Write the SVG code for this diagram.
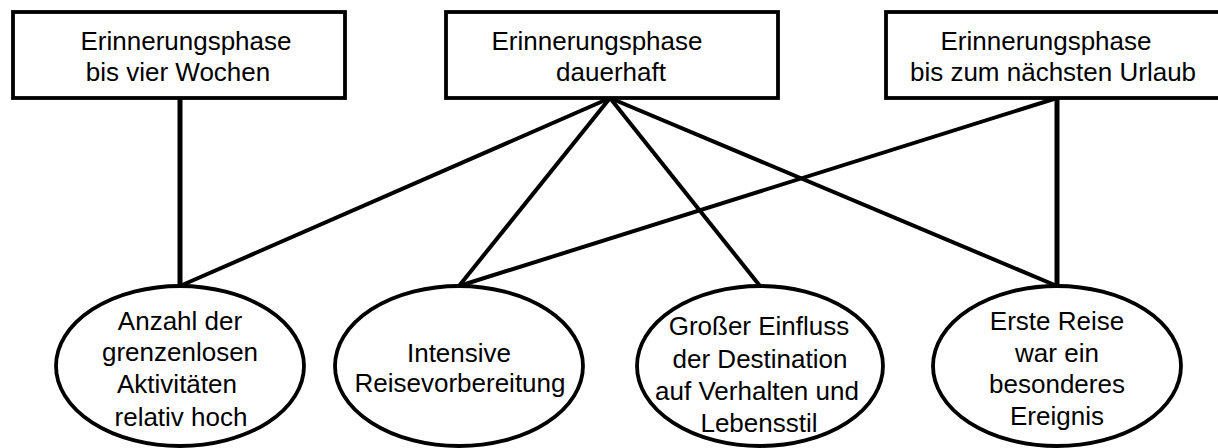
<svg xmlns="http://www.w3.org/2000/svg" width="1218" height="448" viewBox="0 0 1218 448">
  <style>
    .box { fill: #fff; stroke: #000; stroke-width: 3.8; }
    .oval { fill: #fff; stroke: #000; stroke-width: 3.8; }
    .link { stroke: #000; stroke-width: 4; fill: none; }
    .link.straight { stroke-width: 5; }
    text { font-family: "Liberation Sans", Arial, sans-serif; font-size: 26px; fill: #000; text-anchor: middle; }
  </style>
  <rect width="1218" height="448" fill="#fff"/>

  <!-- connectors between phases and factors -->
  <g id="connectors">
    <line class="link straight" x1="180" y1="98" x2="180" y2="286"/>
    <line class="link" x1="610" y1="98" x2="180" y2="286"/>
    <line class="link" x1="610" y1="98" x2="459" y2="286"/>
    <line class="link" x1="610" y1="98" x2="760" y2="286"/>
    <line class="link" x1="610" y1="98" x2="1057" y2="286"/>
    <line class="link" x1="1057" y1="98" x2="459" y2="286"/>
    <line class="link straight" x1="1057" y1="98" x2="1057" y2="286"/>
  </g>

  <!-- phases -->
  <g id="phase-four-weeks">
    <rect class="box" x="13" y="12" width="332" height="86"/>
    <text x="186" y="50">Erinnerungsphase</text>
    <text x="178" y="81">bis vier Wochen</text>
  </g>
  <g id="phase-permanent">
    <rect class="box" x="446" y="12" width="332" height="86"/>
    <text x="597" y="50">Erinnerungsphase</text>
    <text x="611" y="81">dauerhaft</text>
  </g>
  <g id="phase-next-holiday">
    <rect class="box" x="886" y="12" width="334" height="86"/>
    <text x="1046" y="50">Erinnerungsphase</text>
    <text x="1053" y="81">bis zum nächsten Urlaub</text>
  </g>

  <!-- factors -->
  <g id="factor-activities">
    <ellipse class="oval" cx="180" cy="366" rx="124" ry="80"/>
    <text x="180" y="330">Anzahl der</text>
    <text x="180" y="361">grenzenlosen</text>
    <text x="177" y="393">Aktivitäten</text>
    <text x="181" y="426">relativ hoch</text>
  </g>
  <g id="factor-preparation">
    <ellipse class="oval" cx="459" cy="366" rx="124" ry="80"/>
    <text x="459" y="362">Intensive</text>
    <text x="460" y="392">Reisevorbereitung</text>
  </g>
  <g id="factor-destination">
    <ellipse class="oval" cx="760" cy="366" rx="123" ry="80"/>
    <text x="759" y="335">Großer Einfluss</text>
    <text x="760" y="368">der Destination</text>
    <text x="757" y="400">auf Verhalten und</text>
    <text x="759" y="432">Lebensstil</text>
  </g>
  <g id="factor-first-trip">
    <ellipse class="oval" cx="1057" cy="366" rx="124" ry="80"/>
    <text x="1057" y="330">Erste Reise</text>
    <text x="1057" y="362">war ein</text>
    <text x="1057" y="393">besonderes</text>
    <text x="1057" y="425">Ereignis</text>
  </g>
</svg>
